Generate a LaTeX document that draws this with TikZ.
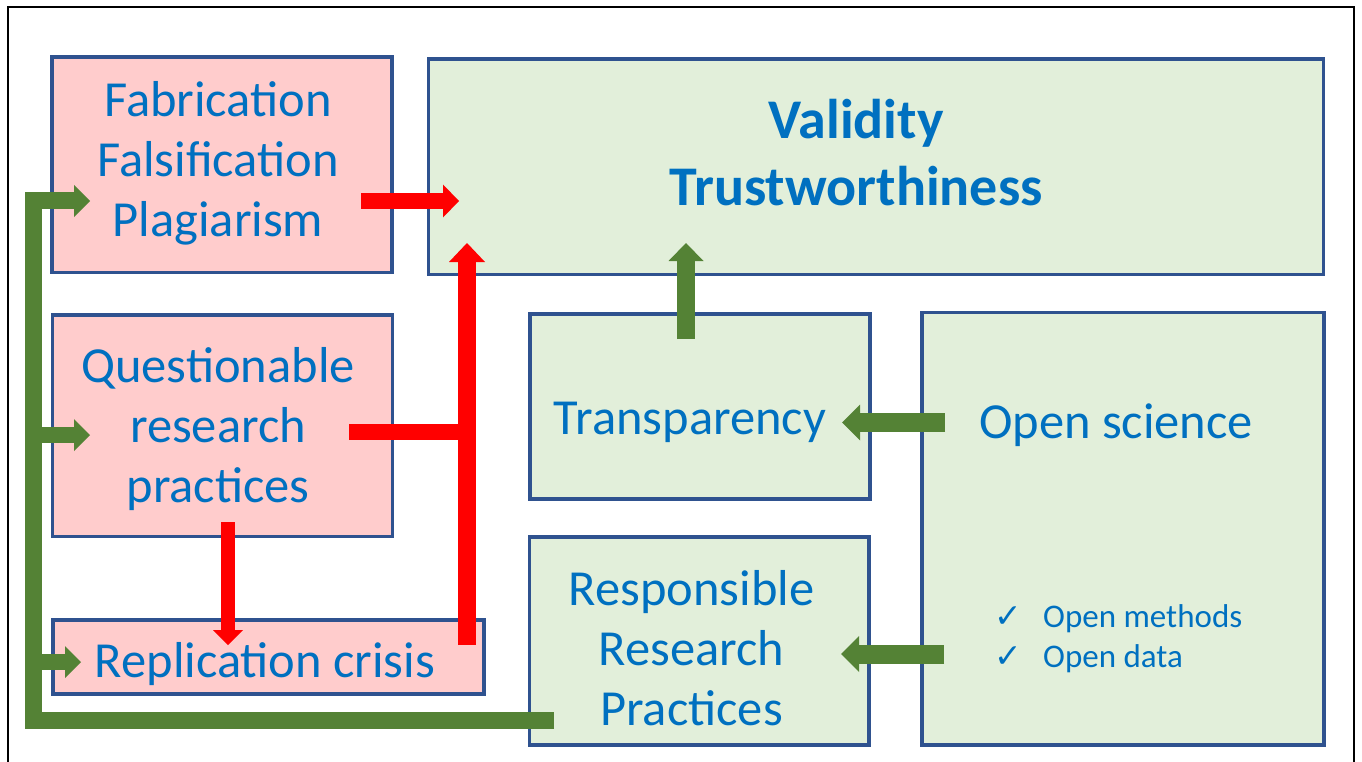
\documentclass[tikz,border=0pt]{standalone}
\usepackage{fontspec}
\setmainfont{Carlito}
\newfontfamily\symfont{DejaVu Sans}
\usetikzlibrary{arrows.meta,calc}
\definecolor{boxblue}{HTML}{2F528F}
\definecolor{pinkfill}{HTML}{FFCCCC}
\definecolor{greenfill}{HTML}{E2EFDA}
\definecolor{textblue}{HTML}{0070C0}
\definecolor{arrred}{HTML}{FF0000}
\definecolor{arrgreen}{HTML}{548235}
\tikzset{
  box/.style={draw=boxblue, line width=3.3pt, inner sep=0pt, outer sep=0pt, rectangle},
  pinkbox/.style={box, fill=pinkfill},
  greenbox/.style={box, fill=greenfill},
  lbl/.style={text=textblue, font=\fontsize{50.5}{60}\selectfont, align=center, inner sep=0pt},
  biglbl/.style={text=textblue, font=\bfseries\fontsize{56}{67}\selectfont, align=center, inner sep=0pt},
  listlbl/.style={text=textblue, font=\fontsize{33}{40}\selectfont, align=left, inner sep=0pt},
  redline/.style={draw=arrred, line width=#1},
  greenline/.style={draw=arrgreen, line width=#1, line join=miter},
}
\begin{document}
\begin{tikzpicture}[x=1pt,y=-1pt]
\useasboundingbox (0,0) rectangle (1362,762);
% outer frame
\draw[line width=2pt, black] (7.5,775) -- (7.5,7.5) -- (1353.5,7.5) -- (1353.5,775);

% boxes
\node[pinkbox, minimum width=340pt, minimum height=215.5pt] (fab) at (222,164.75) {};
\node[greenbox, minimum width=895pt, minimum height=215.5pt] (val) at (876,166.75) {};
\node[pinkbox, minimum width=340pt, minimum height=221.5pt] (qrp) at (222.5,425.75) {};
\node[pinkbox, minimum width=431pt, minimum height=74pt] (rep) at (268.5,657) {};
\node[greenbox, minimum width=340pt, minimum height=185pt] (tra) at (700,406.5) {};
\node[greenbox, minimum width=339.5pt, minimum height=208pt] (rrp) at (699.25,641) {};
\node[greenbox, minimum width=402pt, minimum height=432.5pt] (os) at (1123,528.75) {};

% red connectors
\draw[redline=16pt, -{Triangle[width=33pt,length=16pt,line width=0pt]}]
  ($(fab.east)+(-31,36.25)$) -- ($(val.west)+(30.5,34.25)$);
\draw[redline=16pt] ($(qrp.east)+(-43.5,6.25)$) -- ($(qrp.east)+(74.5,6.25)$);
\draw[redline=18pt, -{Triangle[width=36pt,length=19pt,line width=0pt]}]
  ($(rep.east)+(-17,-12)$) -- ($(val.south west)+(38.5,-31.5)$);
\draw[redline=14pt, -{Triangle[width=30pt,length=15pt,line width=0pt]}]
  ($(qrp.south)+(5.5,-14.5)$) -- ($(rep.north)+(-40.5,25)$);

% green connectors
\draw[greenline=17pt, -{Triangle[width=32pt,length=16pt,line width=0pt]}]
  ($(rrp.west)+(24.5,79)$) -| ($(fab.west)+(-19,36.25)$) -- ($(fab.west)+(38,36.25)$);
\draw[greenline=16pt, -{Triangle[width=32pt,length=16pt,line width=0pt]}]
  ($(qrp.west)+(-19.5,9.25)$) -- ($(qrp.west)+(37.5,9.25)$);
\draw[greenline=16pt, -{Triangle[width=32pt,length=16pt,line width=0pt]}]
  ($(rep.west)+(-20,5)$) -- ($(rep.west)+(28,5)$);
\draw[greenline=18pt, -{Triangle[width=35pt,length=18pt,line width=0pt]}]
  ($(tra.north)+(-14,25)$) -- ($(val.south)+(-190,-31.5)$);
\draw[greenline=19pt, -{Triangle[width=36pt,length=18pt,line width=0pt]}]
  ($(os.west)+(23,-106.25)$) -- ($(tra.east)+(-28,16)$);
\draw[greenline=19pt, -{Triangle[width=36pt,length=18pt,line width=0pt]}]
  ($(os.west)+(22,125.25)$) -- ($(rrp.east)+(-28,13)$);

% texts
\node[lbl] (fabtext) at (218,163) {Fabrication\\Falsification\\Plagiarism};
\node[lbl] (qrptext) at (218,429) {Questionable\\research\\practices};
\node[lbl] (reptext) at (265,664) {Replication crisis};
\node[lbl] (tratext) at (690,422.5) {Transparency};
\node[lbl] (ostext) at (1116,425) {Open science};
\node[lbl] (rrptext) at (691.5,648) {Responsible\\Research\\Practices};
\node[biglbl] (valtext) at (856,153) {Validity\\Trustworthiness};
\node[listlbl, anchor=west] (oslist) at (994,639)
  {\makebox[49pt][l]{\symfont ✓}Open methods\\\makebox[49pt][l]{\symfont ✓}Open data};
\end{tikzpicture}
\end{document}
